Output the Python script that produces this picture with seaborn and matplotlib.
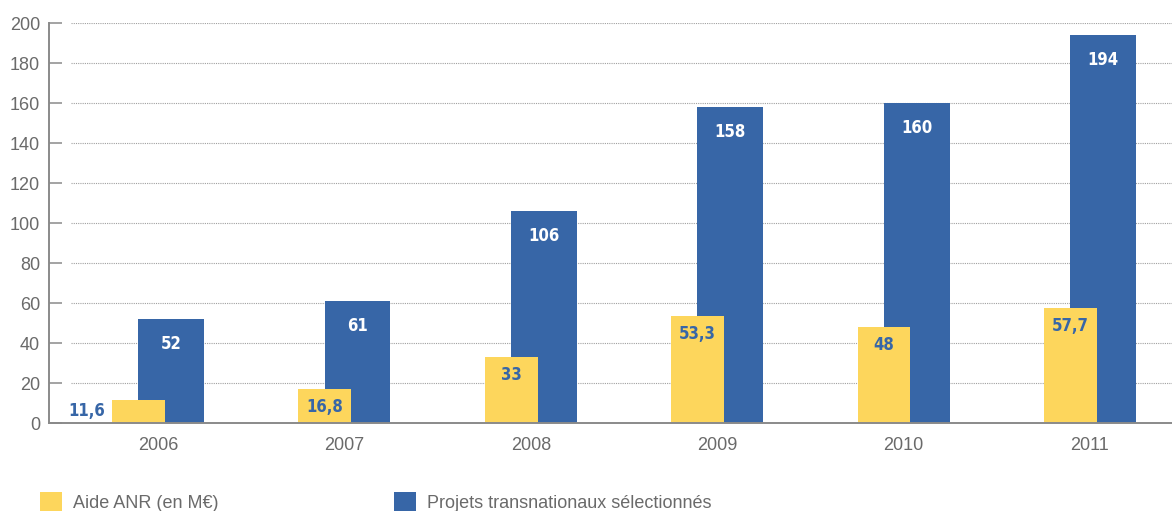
import numpy as np
import pandas as pd
import matplotlib
matplotlib.use("Agg")
import matplotlib.pyplot as plt
from matplotlib.patches import Patch
import seaborn as sns

years = ["2006", "2007", "2008", "2009", "2010", "2011"]
aide_anr = [11.6, 16.8, 33, 53.3, 48, 57.7]
projets = [52, 61, 106, 158, 160, 194]
yticks = [0, 20, 40, 60, 80, 100, 120, 140, 160, 180, 200]

BLUE = "#3766A7"
YELLOW = "#FDD65C"
GRAY_TXT = "#6a6a6a"
AXIS_GRAY = "#8a8a8a"

sns.set_theme(style="white")
plt.rcParams["font.family"] = ["Liberation Sans", "DejaVu Sans"]

W, H = 1172, 511
fig = plt.figure(figsize=(W / 100, H / 100), dpi=100)
ax = fig.add_axes([49 / W, 88 / H, 1 - 49 / W, 400 / H])

idx = np.arange(len(years))
blue_off, blue_w = 0.07, 0.353
yel_off, yel_w = -0.105, 0.284

df_b = pd.DataFrame({"pos": idx + blue_off, "val": projets})
df_y = pd.DataFrame({"pos": idx + yel_off, "val": aide_anr})

sns.barplot(data=df_b, x="pos", y="val", native_scale=True, width=blue_w,
            color=BLUE, saturation=1, errorbar=None, ax=ax, zorder=2,
            linewidth=0, edgecolor="none")
sns.barplot(data=df_y, x="pos", y="val", native_scale=True, width=yel_w,
            color=YELLOW, saturation=1, errorbar=None, ax=ax, zorder=3,
            linewidth=0, edgecolor="none")

ax.set_xlim(-0.585, 5.44)
ax.set_ylim(0, 200)
ax.set_xlabel("")
ax.set_ylabel("")

# gridlines (dotted, with a gap from the axis)
for t in yticks[1:]:
    ax.axhline(t, xmin=0.0196, xmax=1, color="#a0a0a0", lw=0.8,
               ls=(0, (1, 1)), zorder=0)

ax.set_yticks(yticks)
ax.set_yticklabels([str(t) for t in yticks])
ax.set_xticks(idx)
ax.set_xticklabels(years)
ax.tick_params(axis="y", direction="in", length=9.4, width=1.1, color=AXIS_GRAY,
               pad=6.5, labelsize=13, labelcolor=GRAY_TXT, left=True)
ax.tick_params(axis="x", length=0, pad=10, labelsize=13, labelcolor=GRAY_TXT)

for s in ["top", "right"]:
    ax.spines[s].set_visible(False)
for s in ["left", "bottom"]:
    ax.spines[s].set_color(AXIS_GRAY)
    ax.spines[s].set_linewidth(1.4)
ax.spines["left"].set_zorder(5)
ax.spines["bottom"].set_zorder(5)

lab_font = dict(family=["DejaVu Sans"], fontstretch="condensed",
                fontweight="bold", fontsize=12)

def fr(v):
    return f"{v:g}".replace(".", ",")

for i, v in enumerate(projets):
    ax.text(i + blue_off, v - 12.5, fr(v), color="white", ha="center",
            va="center", zorder=6, **lab_font)

for i, v in enumerate(aide_anr):
    if v < 15:
        ax.text(i + yel_off - yel_w / 2 - 0.035, 6, fr(v), color=BLUE,
                ha="right", va="center", zorder=6, **lab_font)
    else:
        ax.text(i + yel_off, max(v - 9, 6), fr(v), color=BLUE, ha="center",
                va="center", zorder=6, **lab_font)

leg_kw = dict(frameon=False, fontsize=13, handlelength=1.2, handleheight=1.2,
              handletextpad=0.65, borderpad=0, borderaxespad=0,
              loc="center left", labelcolor=GRAY_TXT)
l1 = fig.legend(handles=[Patch(facecolor=YELLOW, edgecolor="none", label="Aide ANR (en M€)")],
                bbox_to_anchor=(40 / W, 1 - 502 / H), **leg_kw)
l2 = fig.legend(handles=[Patch(facecolor=BLUE, edgecolor="none",
                               label="Projets transnationaux sélectionnés")],
                bbox_to_anchor=(394 / W, 1 - 502 / H), **leg_kw)

fig.savefig("out.png", dpi=100)
